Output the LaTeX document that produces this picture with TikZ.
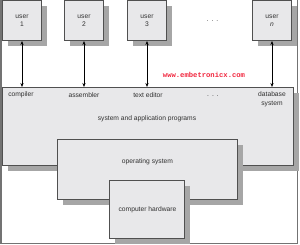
\documentclass[tikz,border=0pt]{standalone}
\usepackage{fontspec}
\setmainfont{Liberation Sans}
\newfontfamily\webfont{Liberation Mono}
\usetikzlibrary{shadows,arrows.meta}
\definecolor{boxfill}{HTML}{E8E8EA}
\definecolor{boxline}{HTML}{505050}
\definecolor{txt}{HTML}{303030}
\definecolor{webred}{HTML}{F0243C}
\tikzset{
  blk/.style={draw=boxline, line width=1pt, fill=boxfill, anchor=north west, inner sep=0pt,
    drop shadow={shadow xshift=5pt, shadow yshift=-6pt, fill=gray!70, opacity=1}},
  lbl/.style={font=\fontsize{6.7}{8.5}\selectfont, text=txt, align=center, inner sep=0pt},
  link/.style={line width=0.9pt, black, {Stealth[length=4pt,width=3.2pt]}-{Stealth[length=4pt,width=3.2pt]}},
}
\begin{document}
\begin{tikzpicture}[x=1pt,y=-1pt]
\useasboundingbox (0,0) rectangle (300,245);
% outer frame
\draw[boxline!80, line width=1.4pt] (1,0) -- (1,243.5) -- (297.5,243.5) -- (297.5,0);
% big box and nested boxes
\node[blk, minimum width=291pt, minimum height=78pt] (sap) at (2,87) {};
\node[blk, minimum width=180pt, minimum height=60pt] (os) at (57,139) {};
\node[blk, minimum width=75pt, minimum height=58pt] (hw) at (109,180) {};
% user boxes
\node[blk, minimum width=39pt, minimum height=40pt] (u1) at (2,0) {};
\node[blk, minimum width=39pt, minimum height=40pt] (u2) at (64,0) {};
\node[blk, minimum width=39pt, minimum height=40pt] (u3) at (127,0) {};
\node[blk, minimum width=39pt, minimum height=40pt] (un) at (252,0) {};
\node[lbl] (t1) at (u1.center) {user\\1};
\node[lbl] (t2) at (u2.center) {user\\2};
\node[lbl] (t3) at (u3.center) {user\\3};
\node[lbl] (tn) at (un.center) {user\\\textit{n}};
\node[lbl] (dots1) at (212.5,21) {.\hspace{3pt}.\hspace{3pt}.};
% program labels
\node[lbl] (c) at (21,95) {compiler};
\node[lbl] (a) at (84,95) {assembler};
\node[lbl] (e) at (148,95) {text editor};
\node[lbl] (dots2) at (213,96) {.\hspace{3pt}.\hspace{3pt}.};
\node[lbl] (d) at (272,99.5) {database\\system};
\node[lbl] (sapl) at (147,119) {system and application programs};
\node[lbl] (osl) at (147.5,161.5) {operating system};
\node[lbl] (hwl) at (147.5,209.5) {computer hardware};
% links
\coordinate (b1) at (22,87); \coordinate (b2) at (84,87);
\coordinate (b3) at (147,87); \coordinate (bn) at (272,87);
\draw[link] (u1.south -| b1) -- (b1);
\draw[link] (u2.south -| b2) -- (b2);
\draw[link] (u3.south -| b3) -- (b3);
\draw[link] (un.south -| bn) -- (bn);
% watermark
\node[font=\webfont\bfseries\fontsize{7.2}{8}\selectfont, text=webred, inner sep=0pt] (web) at (204,75) {www.embetronicx.com};
\end{tikzpicture}
\end{document}
